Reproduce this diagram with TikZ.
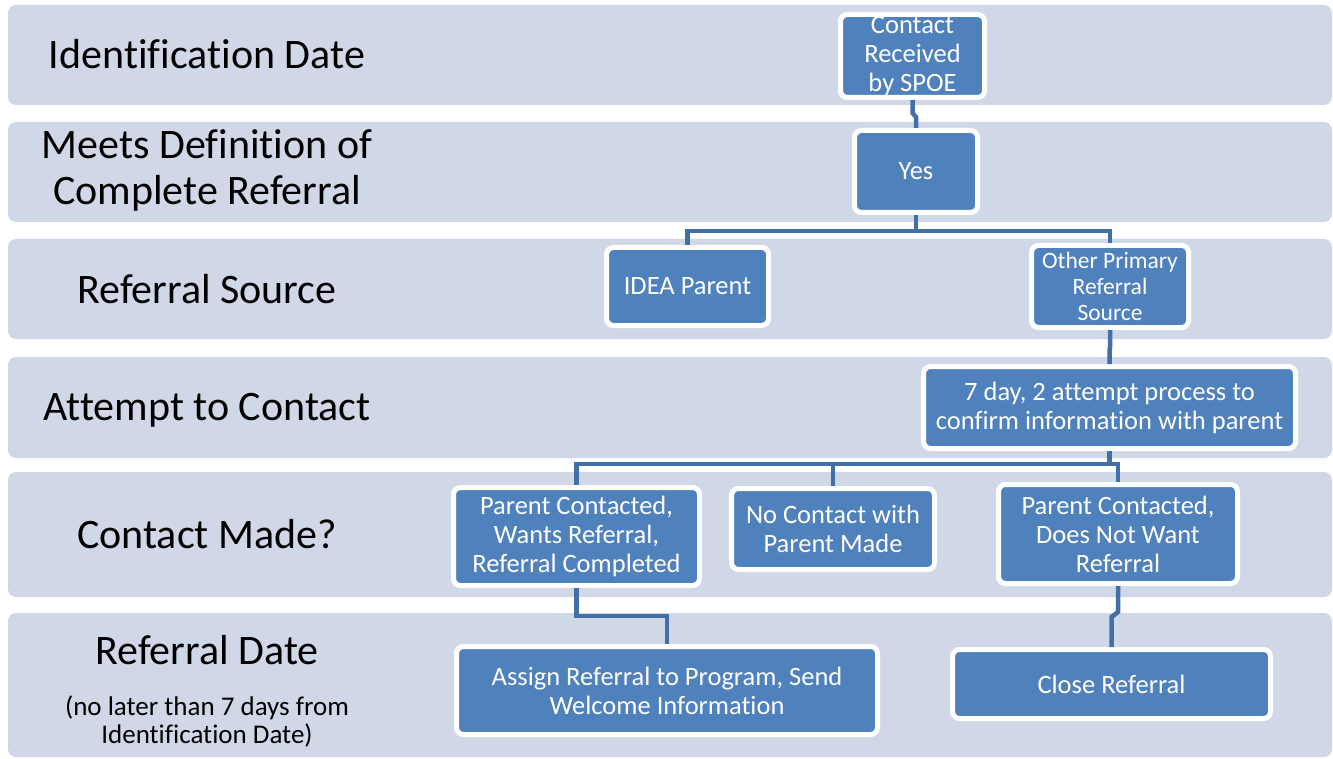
\documentclass[tikz,border=0pt]{standalone}
\usepackage{fontspec}
\setmainfont{Carlito}[Ligatures={NoCommon}]
\usetikzlibrary{calc}
\definecolor{bandfill}{HTML}{D0D8E8}
\definecolor{boxfill}{HTML}{4F81BD}
\definecolor{linkblue}{HTML}{416FA6}
\begin{document}
\begin{tikzpicture}[x=1pt,y=-1pt,
  band/.style={fill=bandfill, rounded corners=8pt},
  stage/.style={text=black, align=center, inner sep=0pt, font=\fontsize{42}{46}\selectfont},
  note/.style={text=black, align=center, inner sep=0pt, font=\fontsize{27}{28}\selectfont},
  stepbox/.style={fill=boxfill, draw=white, line width=5pt, rounded corners=7pt,
    text=white, align=center, inner sep=0pt, font=\fontsize{26.5}{29}\selectfont},
  conn/.style={draw=linkblue, line width=4.5pt}]
\useasboundingbox (0,0) rectangle (1333,759);
\fill[white] (0,0) rectangle (1333,759);

% stage bands
\fill[band] (8,5)   rectangle (1332,105);
\fill[band] (8,122) rectangle (1332,222);
\fill[band] (8,239) rectangle (1332,339);
\fill[band] (8,357) rectangle (1332,458);
\fill[band] (8,472) rectangle (1332,597);
\fill[band] (8,613) rectangle (1332,757);

% stage labels
\node[stage] (lid)   at (207,54)  {Identification Date};
\node[stage] (lmeet) at (207,170) {Meets Definition of\\Complete Referral};
\node[stage] (lsrc)  at (207,289) {Referral Source};
\node[stage] (latt)  at (207,410) {Attempt to Contact};
\node[stage] (lmade) at (207,534) {Contact Made?};
\node[stage] (lref)  at (207,650) {Referral Date};
\node[note]  (lnote) at (207,721) {(no later than 7 days from\\Identification Date)};

% process steps
\node[stepbox, minimum width=144pt, minimum height=83pt] (spoe) at (912.5,56) {Contact\\Received\\by SPOE};
\node[stepbox, minimum width=123pt, minimum height=82pt] (yes) at (916,171.5) {Yes};
\node[stepbox, minimum width=162pt, minimum height=78pt] (idea) at (687.5,286.5) {IDEA Parent};
\node[stepbox, minimum width=157pt, minimum height=82pt, font=\fontsize{23.5}{26}\selectfont] (other) at (1110,286.5) {Other Primary\\Referral\\Source};
\node[stepbox, minimum width=372pt, minimum height=82pt] (seven) at (1109.5,407.5) {7 day, 2 attempt process to\\confirm information with parent};
\node[stepbox, minimum width=246pt, minimum height=98pt] (wants) at (576.5,536.5) {Parent Contacted,\\Wants Referral,\\Referral Completed};
\node[stepbox, minimum width=203pt, minimum height=81pt] (nocontact) at (833,529) {No Contact with\\Parent Made};
\node[stepbox, minimum width=239pt, minimum height=99pt] (notwant) at (1118,534) {Parent Contacted,\\Does Not Want\\Referral};
\node[stepbox, minimum width=421pt, minimum height=88pt] (assign) at (667,690.5) {Assign Referral to Program, Send\\Welcome Information};
\node[stepbox, minimum width=318pt, minimum height=69pt] (close) at (1111.5,684) {Close Referral};

% connectors
\draw[conn] (spoe.south) -- ++(0,13) -- ([yshift=11pt]yes.north) -- (yes.north);
\draw[conn] (yes.south) -- ++(0,16) -| (idea.north);
\draw[conn] (yes.south) -- ++(0,16) -| (other.north);
\draw[conn] (other.south) -- ++(0,18) -- ([yshift=14pt]seven.north) -- (seven.north);
\draw[conn] (seven.south) -- ++(0,13) -| (wants.north);
\draw[conn] (seven.south) -- ++(0,13) -| (nocontact.north);
\draw[conn] (seven.south) -- ++(0,13) -| (notwant.north);
\draw[conn] (wants.south) -- ++(0,28) -| (assign.north);
\draw[conn] (notwant.south) -- ++(0,26) -- ([yshift=30pt]close.north) -- (close.north);
\end{tikzpicture}
\end{document}
